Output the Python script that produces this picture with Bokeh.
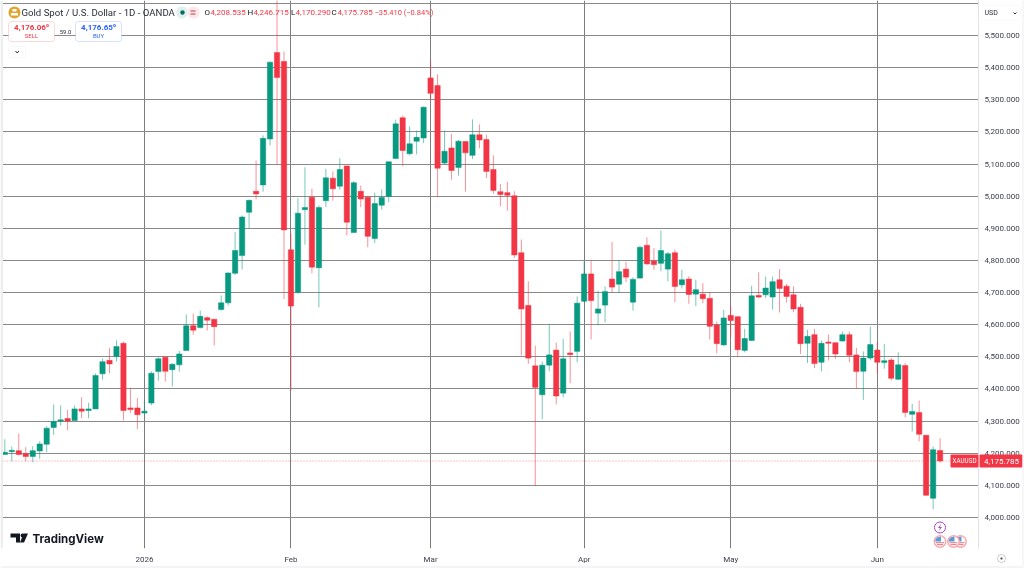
from bokeh.plotting import figure
from bokeh.models import Range1d, FixedTicker, Label, NumeralTickFormatter, ColumnDataSource, BoxAnnotation
from bokeh.embed import file_html
from bokeh.resources import INLINE

opens = [4196,4205,4208,4199,4190,4207,4228,4280,4300,4308,
 4302,4338,4333,4338,4447,4489,4501,4542,4341,4341,
 4325,4356,4454,4499,4460,4475,4520,4597,4591,4622,
 4617,4647,4668,4760,4815,4950,5015,5035,5178,5447,
 5419,4833,4701,4958,4997,4777,4986,5056,5031,5094,
 4887,5015,4997,4868,4972,4999,5117,5244,5132,5171,
 5181,5368,5344,5103,5150,5089,5170,5127,5191,5176,
 5083,5014,5011,5001,4824,4660,4472,4382,4474,4521,
 4387,4512,4517,4673,4758,4636,4661,4742,4726,4773,
 4670,4745,4847,4798,4791,4773,4824,4724,4742,4695,
 4695,4682,4599,4537,4629,4625,4520,4551,4691,4693,
 4686,4740,4720,4693,4654,4542,4569,4483,4546,4544,
 4549,4569,4506,4455,4496,4521,4482,4490,4430,4473,
 4321,4327,4256,4060,4208.535]
highs = [4243,4221,4261,4219,4222,4237,4284,4352,4349,4335,
 4349,4374,4357,4448,4495,4527,4551,4548,4404,4372,
 4364,4455,4499,4501,4480,4518,4632,4634,4644,4626,
 4618,4691,4763,4888,4940,4989,5111,5189,5419,5620,
 5450,4884,4994,5090,5023,4971,5085,5077,5118,5094,
 5047,5033,5000,5011,5021,5107,5238,5251,5217,5204,
 5279,5420,5379,5204,5194,5175,5170,5239,5223,5191,
 5127,5038,5045,5015,4865,4735,4535,4485,4601,4544,
 4556,4579,4688,4798,4800,4706,4719,4857,4800,4796,
 4748,4846,4872,4838,4893,4826,4833,4771,4751,4740,
 4729,4702,4610,4646,4659,4625,4587,4721,4763,4750,
 4750,4773,4727,4719,4665,4584,4587,4551,4569,4544,
 4579,4579,4528,4517,4594,4546,4540,4496,4514,4480,
 4354,4364,4256,4221,4246.715]
lows = [4195,4175,4193,4175,4172,4183,4203,4257,4286,4271,
 4302,4309,4309,4339,4429,4449,4485,4302,4325,4275,
 4322,4349,4426,4423,4408,4454,4520,4569,4588,4582,
 4535,4644,4660,4755,4772,4899,4990,5014,5158,5098,
 4680,4395,4696,4849,4760,4654,4966,4986,5020,4878,
 4887,4966,4841,4854,4958,4981,5117,5093,5127,5130,
 5165,5298,4997,5100,5051,5064,5014,5116,5149,5056,
 5007,4968,4955,4808,4504,4478,4100,4306,4455,4352,
 4374,4418,4483,4670,4554,4598,4607,4699,4699,4732,
 4644,4745,4787,4771,4766,4735,4670,4713,4665,4658,
 4667,4554,4511,4535,4561,4499,4514,4549,4683,4683,
 4647,4638,4669,4639,4509,4481,4465,4455,4489,4493,
 4548,4483,4400,4366,4489,4447,4463,4426,4428,4312,
 4268,4237,4068,4025,4170.29]
closes = [4203,4209,4196,4190,4208,4229,4278,4299,4304,4300,
 4338,4331,4338,4442,4485,4478,4532,4333,4336,4320,
 4331,4449,4494,4455,4477,4509,4597,4583,4626,4614,
 4594,4668,4761,4831,4935,4987,5007,5180,5417,5369,
 4895,4658,4947,4965,4779,4965,5057,5023,5083,4919,
 5042,4991,4875,4977,4996,5107,5225,5142,5163,5183,
 5277,5320,5087,5140,5080,5171,5135,5191,5175,5077,
 5018,5005,5003,4817,4649,4496,4405,4474,4506,4378,
 4494,4507,4667,4758,4675,4649,4703,4717,4765,4748,
 4741,4841,4789,4787,4831,4821,4719,4740,4694,4709,
 4681,4595,4541,4621,4613,4522,4557,4690,4686,4714,
 4734,4713,4688,4649,4541,4564,4479,4542,4542,4509,
 4569,4505,4454,4496,4538,4483,4488,4433,4475,4327,
 4330,4259,4069,4211,4175.785]

price_ticks = [4000,4100,4200,4300,4400,4500,4600,4700,4800,4900,5000,5100,5200,5300,5400,5500]
grid_ticks = price_ticks + [5600]
month_ticks = [20,41,61,83,104,125]
month_labels = ["2026","Feb","Mar","Apr","May","Jun"]
last_price = 4175.785

RED, GREEN = "#f23645", "#089981"
W, H, FR, FB = 1024, 569, 978, 548
STEP, PX0 = 6.98, 4.3
PPX = 3.112
xr0, xr1 = (0 - PX0) / STEP, (FR - PX0) / STEP
yr0, yr1 = 4000 + (517 - FB) * PPX, 4000 + 517 * PPX

p = figure(width=W, height=H, output_backend="svg", toolbar_location=None,
           x_range=Range1d(xr0, xr1), y_range=Range1d(yr0, yr1), y_axis_location="right",
           min_border_left=0, min_border_right=W - FR, min_border_top=0, min_border_bottom=H - FB,
           background_fill_color="white", border_fill_color="white", outline_line_color=None)
p.styles = {"position": "fixed", "left": "0", "top": "0"}

ya, xa = p.yaxis[0], p.xaxis[0]
for a in (ya, xa):
    a.major_tick_line_color = None
    a.minor_tick_line_color = None
    a.major_tick_in = 0
    a.major_tick_out = 0
    a.minor_tick_in = 0
    a.minor_tick_out = 0
    a.major_label_text_font = "Roboto"
    a.major_label_text_font_size = "8px"
    a.major_label_text_color = "#3a3e4a"
    a.major_label_standoff = 6
ya.ticker = FixedTicker(ticks=price_ticks)
ya.formatter = NumeralTickFormatter(format="0,0.000")
ya.axis_line_color = "#e0e3eb"
xa.ticker = FixedTicker(ticks=month_ticks)
xa.major_label_overrides = dict(zip(month_ticks, month_labels))
xa.axis_line_color = None
p.ygrid.ticker = FixedTicker(ticks=grid_ticks)
p.xgrid.ticker = xa.ticker
p.ygrid.grid_line_color = "#8a8a8a"
p.xgrid.grid_line_color = "#7c7c7c"
p.ygrid.grid_line_width = 1
p.xgrid.grid_line_width = 1

idx = list(range(len(opens)))
src = ColumnDataSource(dict(
    x=idx, o=opens, c=closes, h=highs, l=lows,
    top=[max(a, b) for a, b in zip(opens, closes)],
    bot=[min(a, b) for a, b in zip(opens, closes)],
    col=[GREEN if c >= o else RED for o, c in zip(opens, closes)]))
p.segment("x", "h", "x", "l", source=src, line_color="col", line_width=1, line_alpha=0.55)
p.vbar("x", top="top", bottom="bot", width=0.76, source=src, fill_color="col", line_color="col", line_width=0.5)

# last price dotted line
p.line([(3 - PX0) / STEP, (950 - PX0) / STEP], [last_price, last_price], line_color=RED, line_width=1, line_dash="1 2", line_alpha=0.6)

# left strip
p.quad(left=[xr0], right=[(2.5 - PX0) / STEP], top=[yr1], bottom=[yr0], fill_color="#eceded", line_color=None)

# transparent overlay in page pixels for the surrounding interface
o = figure(width=W, height=H, output_backend="svg", toolbar_location=None,
           x_range=Range1d(0, W), y_range=Range1d(H, 0), x_axis_location=None, y_axis_location=None,
           min_border_left=0, min_border_right=0, min_border_top=0, min_border_bottom=0,
           background_fill_alpha=0, border_fill_alpha=0, outline_line_color=None)
o.grid.visible = False
o.styles = {"position": "fixed", "left": "0", "top": "0"}


def lbl(text, px, py, size=8, color="#131722", align="left", font="Roboto", style="normal"):
    o.add_layout(Label(x=px, y=py, text=text, text_font=font, text_font_size=f"{size}px", text_color=color,
                       text_align=align, text_baseline="middle", text_font_style=style))


def rbox(l, t, r, b, fill="white", line="#cccccc", radius=2):
    o.add_layout(BoxAnnotation(left=l, right=r, top=t, bottom=b, fill_color=fill, fill_alpha=1,
                               line_color=line, line_width=1, border_radius=radius, level="annotation"))


# header
o.circle([14], [12], radius=6, fill_color="#e0a52c", line_color=None)
o.quad(left=[10.5], right=[17.5], top=[12.5], bottom=[15], fill_color="white", line_color=None)
o.quad(left=[12], right=[16], top=[8.5], bottom=[11], fill_color="white", line_color=None)
lbl("Gold Spot / U.S. Dollar - 1D - OANDA", 21, 12, size=9.6, color="#2a2e39")
rbox(176, 6, 187, 18, fill="#dff1ee", line=None, radius=5)
rbox(187, 6, 199, 18, fill="#fde8ea", line=None, radius=5)
o.circle([182], [12], radius=2.2, fill_color="#076d5c", line_color=None, level="overlay")
o.quad(left=[190, 190], right=[195, 195], top=[10, 13], bottom=[11, 14], fill_color="#c2334a", line_color=None, level="overlay")
for txt, px, col in [("O", 204, "#131722"), ("4,208.535", 210, RED), ("H", 247, "#131722"), ("4,246.715", 253, RED),
                     ("L", 290.5, "#131722"), ("4,170.290", 295, RED), ("C", 331, "#131722"), ("4,175.785", 337, RED)]:
    lbl(txt, px, 12, size=8, color=col)
lbl("\u221235.410 (\u22120.84%)", 374, 12, size=7.5, color=RED)

# sell / buy
rbox(8, 21, 54, 41, line="#f7808b", radius=3)
rbox(75, 21, 121, 41, line="#7f9ffb", radius=3)
lbl("4,176.06\u2070", 31, 27, size=8, color=RED, align="center", style="bold")
lbl("SELL", 31, 35, size=6, color=RED, align="center")
lbl("59.0", 65, 31, size=6, color="#2a2e39", align="center")
lbl("4,176.65\u2070", 98, 27, size=8, color="#2962ff", align="center", style="bold")
lbl("BUY", 98, 35, size=6, color="#2962ff", align="center")
rbox(8, 46, 25, 57, line="#e0e3eb", radius=2)
o.line([15, 16.7, 18.4], [50.5, 52.5, 50.5], line_color="#2a2e39", line_width=1, level="overlay")

# right axis extras
rbox(982, 5, 1020, 20, line="#eff0f3", radius=2)
lbl("USD", 984, 12.5, size=7, color="#2a2e39")
o.line([1013, 1014.5, 1016], [12, 13.5, 12], line_color="#2a2e39", line_width=1, level="overlay")
rbox(950, 454, 978, 467, fill=RED, line=None, radius=1)
rbox(979, 454, 1022, 467, fill=RED, line=None, radius=1)
lbl("XAUUSD", 964, 460.5, size=6.3, color="white", align="center")
lbl("4,175.785", 1001, 460.5, size=8, color="white", align="center")
rbox(0, 566, 1022, 567, fill="#e8e9ec", line=None, radius=0)
rbox(1022, 0, 1023, 567, fill="#eff0f2", line=None, radius=0)
rbox(997, 554, 1005, 562, fill="white", line="#55585f", radius=4)
rbox(1000, 557, 1002, 559, fill="#55585f", line="#55585f", radius=1)

# logo
lbl("TradingView", 32, 538.5, size=11.5, color="#131722", font="Inter", style="bold")
o.patch([10, 19.5, 19.5, 15.5, 15.5, 10], [533, 533, 542, 542, 537, 537], fill_color="#131722", line_color=None)
o.circle([22], [535], radius=1.9, fill_color="#131722", line_color=None)
o.patch([23, 27.5, 23.5, 19.5], [533, 533, 542, 542], fill_color="#131722", line_color=None)

# event markers
o.circle([939.5], [527], radius=5.5, fill_color="white", line_color="#ab47bc", line_width=1)
o.patch([940.5, 937.5, 939.5, 938.5, 941.5, 939.5], [523.5, 527.5, 527.5, 530.5, 526.5, 526.5], fill_color="#ab47bc", line_color=None)
for cx in [960, 953, 939.5]:
    o.circle([cx], [541], radius=6.5, fill_color="#f9a8ae", line_color=None)
    o.circle([cx], [541], radius=5, fill_color="white", line_color=None)
    o.patch([cx + 1, cx - 5, cx - 4.3, cx - 2.5, cx + 1], [541, 541, 538.5, 536.7, 536], fill_color="#5b9bd5", line_color=None)
    o.quad(left=[cx - 4, cx - 3], right=[cx + 4, cx + 3], top=[541.7, 543.6], bottom=[542.7, 544.6], fill_color="#f4707c", line_color=None)

open("out.html", "w").write(file_html([p, o], INLINE))
